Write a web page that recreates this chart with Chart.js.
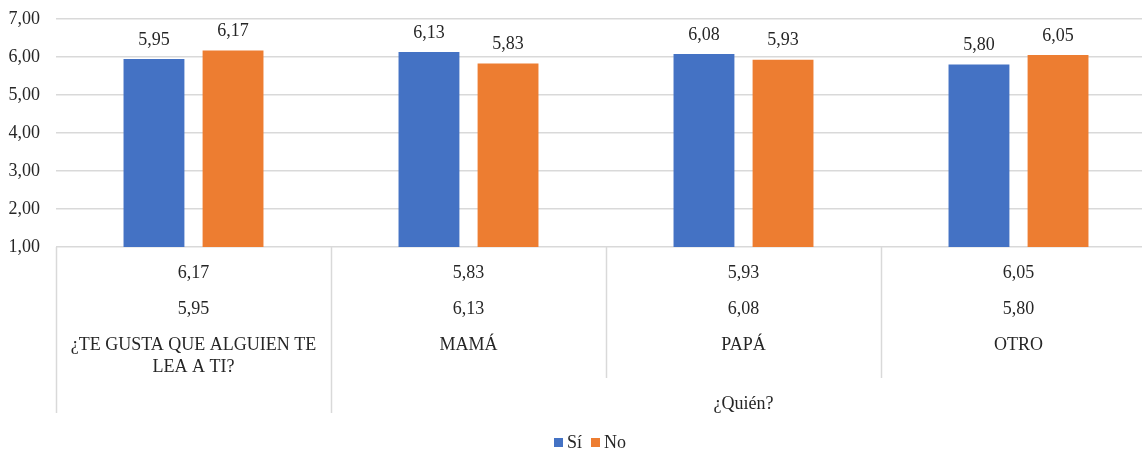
<!DOCTYPE html>
<html lang="es">
<head>
<meta charset="utf-8">
<title>¿Te gusta que alguien te lea a ti?</title>
<script src="https://cdn.jsdelivr.net/npm/chart.js@4/dist/chart.umd.min.js"></script>
<style>
  html, body { margin: 0; padding: 0; background: #fff; overflow: hidden; }
  #wrap { width: 1142px; height: 452px; overflow: hidden; }
  canvas { display: block; }
</style>
</head>
<body>
<div id="wrap"><canvas id="chart" width="1180" height="452"></canvas></div>
<script>
// Categories (multi-line where the label wraps)
const categories = [
  ['¿TE GUSTA QUE ALGUIEN TE', 'LEA A TI?'],
  ['MAMÁ'],
  ['PAPÁ'],
  ['OTRO']
];
// Outer grouping of the categories: label and how many categories it spans
const groupLabels = ['', '¿Quién?'];
const groupSpans = [1, 3];

const seriesNames = ['Sí', 'No'];
const siValues = [5.95, 6.13, 6.08, 5.80];
const noValues = [6.17, 5.83, 5.93, 6.05];

const yMin = 1, yMax = 7, yStep = 1;

const FONT = "'Liberation Serif', 'Times New Roman', serif";
const FSIZE = 18;
const TEXT = '#262626';
const GRID = '#d9d9d9';

const fmt = v => v.toFixed(2).replace('.', ',');

// Value labels above each bar
const barLabels = {
  id: 'barLabels',
  afterDatasetsDraw(chart) {
    const ctx = chart.ctx;
    ctx.save();
    ctx.font = FSIZE + 'px ' + FONT;
    ctx.fillStyle = TEXT;
    ctx.textAlign = 'center';
    ctx.textBaseline = 'middle';
    chart.data.datasets.forEach((ds, di) => {
      chart.getDatasetMeta(di).data.forEach((bar, i) => {
        ctx.fillText(fmt(ds.data[i]), bar.x, bar.y - 19);
      });
    });
    ctx.restore();
  }
};

// Data table under the axis: value rows, category names, group names and dividers
const axisTable = {
  id: 'axisTable',
  afterDraw(chart) {
    const ctx = chart.ctx;
    const xs = chart.scales.x;
    const n = categories.length;
    const slot = (xs.right - xs.left) / n;
    const base = chart.chartArea.bottom;
    const rows = [noValues, siValues];
    ctx.save();
    ctx.font = FSIZE + 'px ' + FONT;
    ctx.fillStyle = TEXT;
    ctx.textAlign = 'center';
    ctx.textBaseline = 'middle';
    for (let i = 0; i < n; i++) {
      const cx = xs.getPixelForValue(i);
      rows.forEach((r, ri) => ctx.fillText(fmt(r[i]), cx, base + 26 + ri * 36));
      categories[i].forEach((line, li) => ctx.fillText(line, cx, base + 98 + li * 22));
    }
    // dividers
    ctx.strokeStyle = GRID;
    ctx.lineWidth = 1.5;
    let start = 0;
    const outer = new Set([0]);
    groupSpans.forEach(s => { start += s; outer.add(start); });
    for (let k = 0; k <= n; k++) {
      const x = Math.round(xs.left + k * slot) + 0.5;
      const len = outer.has(k) ? 166 : 131;
      ctx.beginPath();
      ctx.moveTo(x, base);
      ctx.lineTo(x, base + len);
      ctx.stroke();
    }
    // group labels
    start = 0;
    groupSpans.forEach((s, g) => {
      const x0 = xs.left + start * slot;
      const x1 = xs.left + (start + s) * slot;
      if (groupLabels[g]) ctx.fillText(groupLabels[g], (x0 + x1) / 2, base + 157);
      start += s;
    });

    // legend: small square swatch followed by the series name, centred
    const box = 9, gapText = 4, gapItem = 9;
    const items = chart.data.datasets.map(ds => ({
      label: ds.label, color: ds.backgroundColor,
      w: box + gapText + ctx.measureText(ds.label).width
    }));
    const total = items.reduce((a, it) => a + it.w, 0) + gapItem * (items.length - 1);
    let x = chart.width / 2 - total / 2;
    const ly = 443;
    ctx.textAlign = 'left';
    items.forEach(it => {
      ctx.fillStyle = it.color;
      ctx.fillRect(Math.round(x), ly - 5, box, box);
      ctx.fillStyle = TEXT;
      ctx.fillText(it.label, x + box + gapText, ly);
      x += it.w + gapItem;
    });
    ctx.restore();
  }
};

new Chart(document.getElementById('chart'), {
  type: 'bar',
  data: {
    labels: categories.map(c => c.join(' ')),
    datasets: [
      { label: seriesNames[0], data: siValues, backgroundColor: '#4472C4' },
      { label: seriesNames[1], data: noValues, backgroundColor: '#ED7D31' }
    ]
  },
  options: {
    responsive: false,
    animation: false,
    devicePixelRatio: 1,
    layout: { padding: { top: 19, right: 24, left: 0, bottom: 0 } },
    datasets: { bar: { categoryPercentage: 0.575, barPercentage: 0.77 } },
    scales: {
      x: {
        grid: { display: false },
        border: { display: false },
        ticks: { display: false },
        afterFit(s) { s.height = 205; }
      },
      y: {
        min: yMin, max: yMax,
        ticks: {
          stepSize: yStep,
          padding: 16,
          color: TEXT,
          font: { family: FONT, size: FSIZE },
          callback: v => fmt(v)
        },
        grid: { color: GRID, lineWidth: 1.5, drawTicks: false },
        border: { display: false },
        afterFit(s) { s.width = 56; s.paddingTop = 0; s.paddingBottom = 0; }
      }
    },
    plugins: {
      legend: { display: false },
      tooltip: { enabled: false }
    }
  },
  plugins: [barLabels, axisTable]
});
</script>
</body>
</html>
